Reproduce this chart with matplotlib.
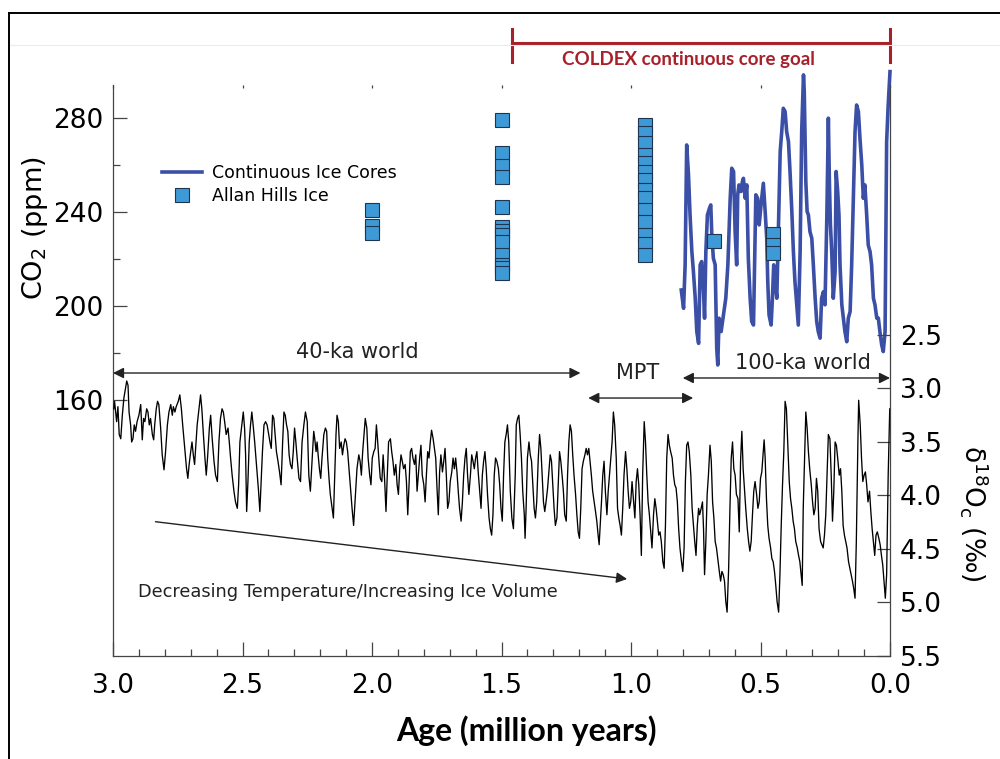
import numpy as np
import matplotlib.pyplot as plt
from matplotlib.lines import Line2D
from matplotlib.ticker import MultipleLocator, FixedLocator

plt.rcParams['font.family'] = ['DejaVu Sans']
plt.rcParams['mathtext.default'] = 'regular'

# benthic d18O stack (age in Ma, d18O permil)
d18o_old = [
    (2.997, 3.19), (2.994, 3.12), (2.986, 3.31), (2.981, 3.17), (2.976, 3.43), (2.970, 3.47), (2.964, 3.25),
    (2.958, 3.09), (2.952, 3.00), (2.947, 2.93), (2.942, 2.97), (2.938, 3.22), (2.932, 3.34), (2.928, 3.50),
    (2.923, 3.47), (2.918, 3.34), (2.913, 3.40), (2.907, 3.31), (2.900, 3.25), (2.893, 3.15), (2.887, 3.48),
    (2.882, 3.28), (2.877, 3.31), (2.870, 3.19), (2.865, 3.22), (2.860, 3.34), (2.855, 3.28), (2.848, 3.43),
    (2.843, 3.48), (2.839, 3.34), (2.833, 3.19), (2.828, 3.12), (2.823, 3.15), (2.816, 3.37), (2.810, 3.62),
    (2.803, 3.76), (2.797, 3.59), (2.790, 3.34), (2.784, 3.22), (2.777, 3.15), (2.771, 3.25), (2.767, 3.17),
    (2.761, 3.22), (2.756, 3.17), (2.748, 3.12), (2.742, 3.06), (2.736, 3.19), (2.731, 3.34), (2.724, 3.53),
    (2.716, 3.75), (2.711, 3.84), (2.706, 3.71), (2.700, 3.59), (2.695, 3.50), (2.690, 3.62), (2.685, 3.71),
    (2.680, 3.53), (2.675, 3.34), (2.668, 3.19), (2.662, 3.06), (2.657, 3.19), (2.651, 3.43), (2.645, 3.65),
    (2.640, 3.81), (2.635, 3.65), (2.628, 3.37), (2.623, 3.25), (2.617, 3.47), (2.610, 3.68), (2.604, 3.81),
    (2.597, 3.87), (2.591, 3.50), (2.585, 3.28), (2.579, 3.19), (2.574, 3.22), (2.569, 3.31), (2.563, 3.43),
    (2.556, 3.37), (2.551, 3.50), (2.546, 3.65), (2.540, 3.81), (2.533, 3.96), (2.527, 4.06), (2.520, 4.12),
    (2.515, 3.90), (2.510, 3.50), (2.504, 3.37), (2.497, 3.22), (2.492, 3.37), (2.488, 3.62), (2.484, 4.15),
    (2.479, 3.87), (2.474, 3.50), (2.469, 3.34), (2.464, 3.22), (2.459, 3.34), (2.453, 3.50), (2.448, 3.65),
    (2.443, 3.81), (2.438, 3.96), (2.433, 4.15), (2.428, 3.87), (2.423, 3.59), (2.417, 3.34), (2.411, 3.31),
    (2.405, 3.34), (2.399, 3.43), (2.394, 3.50), (2.389, 3.56), (2.384, 3.25), (2.379, 3.28), (2.374, 3.43),
    (2.369, 3.59), (2.363, 3.68), (2.357, 3.78), (2.351, 3.90), (2.345, 3.50), (2.340, 3.22), (2.335, 3.25),
    (2.330, 3.34), (2.325, 3.40), (2.320, 3.62), (2.315, 3.71), (2.309, 3.75), (2.304, 3.59), (2.299, 3.37),
    (2.294, 3.50), (2.289, 3.65), (2.282, 3.84), (2.276, 3.87), (2.270, 3.50), (2.263, 3.34), (2.257, 3.22),
    (2.250, 3.31), (2.244, 3.81),
]
d18o_mid = [
    (2.238, 3.96), (2.231, 3.65), (2.225, 3.40), (2.221, 3.47), (2.216, 3.59), (2.212, 3.50), (2.208, 3.62),
    (2.203, 3.75), (2.198, 3.84), (2.193, 3.65), (2.186, 3.43), (2.180, 3.37), (2.175, 3.40), (2.171, 3.65),
    (2.166, 3.84), (2.161, 3.99), (2.154, 4.12), (2.149, 4.21), (2.144, 3.81), (2.139, 3.43), (2.135, 3.25),
    (2.130, 3.31), (2.125, 3.56), (2.119, 3.50), (2.114, 3.62), (2.109, 3.53), (2.104, 3.47), (2.099, 3.50),
    (2.094, 3.59), (2.089, 3.75), (2.083, 3.93), (2.077, 4.12), (2.071, 4.28), (2.064, 3.99), (2.058, 3.75),
    (2.051, 3.62), (2.046, 3.68), (2.041, 3.81), (2.036, 3.59), (2.031, 3.43), (2.026, 3.28), (2.020, 3.37),
    (2.015, 3.65), (2.009, 3.81), (2.004, 3.90), (1.999, 3.65), (1.993, 3.59), (1.988, 3.56), (1.983, 3.34),
    (1.978, 3.50), (1.973, 3.68), (1.968, 3.84), (1.962, 3.87), (1.957, 3.62), (1.951, 3.87), (1.946, 4.15),
    (1.941, 3.81), (1.936, 3.50), (1.929, 3.47), (1.924, 3.59), (1.919, 3.68), (1.914, 3.81), (1.908, 3.71),
    (1.903, 3.90), (1.898, 3.99), (1.893, 3.75), (1.888, 3.62), (1.883, 3.68), (1.878, 3.75), (1.872, 3.71),
    (1.867, 3.87), (1.862, 4.18), (1.857, 3.90), (1.852, 3.59), (1.847, 3.56), (1.842, 3.65), (1.836, 3.71),
    (1.831, 3.62), (1.826, 3.96), (1.821, 3.81), (1.816, 3.65), (1.811, 3.53), (1.806, 3.81), (1.800, 3.90),
    (1.795, 4.06), (1.790, 3.81), (1.785, 3.59), (1.780, 3.65), (1.775, 3.50), (1.770, 3.39), (1.764, 3.47),
    (1.759, 3.56), (1.754, 3.65), (1.749, 3.93), (1.744, 4.18), (1.739, 3.78), (1.734, 3.62), (1.728, 3.78),
    (1.723, 3.68), (1.718, 3.56), (1.713, 3.81), (1.708, 4.12), (1.703, 4.06), (1.698, 3.87), (1.692, 3.78),
    (1.687, 3.65), (1.682, 3.75), (1.677, 3.65), (1.672, 3.78), (1.667, 3.96), (1.662, 4.12), (1.656, 4.24),
    (1.651, 4.06), (1.646, 3.81), (1.641, 3.65), (1.636, 3.56), (1.631, 3.81), (1.626, 3.99), (1.620, 3.81),
    (1.615, 3.62), (1.610, 3.68), (1.605, 3.75), (1.600, 3.65), (1.595, 3.59), (1.590, 3.78), (1.584, 3.96),
    (1.579, 4.12), (1.574, 3.81), (1.569, 3.68), (1.564, 3.59), (1.559, 3.75), (1.554, 3.99), (1.548, 4.21),
    (1.543, 4.31), (1.538, 4.37), (1.533, 4.18), (1.528, 3.81), (1.523, 3.65), (1.518, 3.68), (1.512, 3.75),
    (1.507, 3.90), (1.502, 4.12), (1.497, 4.24), (1.492, 3.81), (1.487, 3.50),
]
d18o_mpt = [
    (1.482, 3.43), (1.477, 3.34), (1.472, 3.50), (1.466, 3.96), (1.460, 4.21), (1.454, 4.31), (1.447, 3.81),
    (1.443, 3.34), (1.438, 3.28), (1.433, 3.25), (1.428, 3.43), (1.423, 3.65), (1.418, 3.96), (1.412, 4.18),
    (1.409, 4.40), (1.405, 4.12), (1.400, 3.65), (1.394, 3.50), (1.389, 3.62), (1.384, 3.68), (1.379, 3.90),
    (1.374, 4.12), (1.369, 4.21), (1.364, 4.06), (1.358, 3.65), (1.353, 3.43), (1.348, 3.56), (1.343, 3.81),
    (1.338, 4.06), (1.333, 4.15), (1.328, 4.06), (1.322, 3.93), (1.317, 3.78), (1.312, 3.62), (1.307, 3.68),
    (1.302, 3.90), (1.297, 4.12), (1.292, 4.28), (1.286, 4.21), (1.281, 3.90), (1.276, 3.59), (1.271, 3.68),
    (1.266, 3.81), (1.261, 3.96), (1.256, 4.18), (1.250, 4.24), (1.245, 3.81), (1.240, 3.50), (1.235, 3.34),
    (1.230, 3.40), (1.225, 3.62), (1.220, 3.81), (1.214, 3.99), (1.209, 4.18), (1.204, 4.34), (1.199, 4.40),
    (1.194, 4.12), (1.189, 3.75), (1.184, 3.68), (1.178, 3.62), (1.173, 3.56), (1.168, 3.62), (1.163, 3.56),
    (1.158, 3.68), (1.153, 3.81), (1.148, 3.96), (1.142, 4.06), (1.137, 4.15), (1.132, 4.24), (1.127, 4.37),
    (1.123, 4.46), (1.119, 4.28), (1.114, 4.06), (1.109, 3.81), (1.104, 3.68), (1.099, 3.96), (1.093, 4.18),
    (1.088, 3.96), (1.083, 3.81), (1.078, 3.65), (1.073, 3.50), (1.068, 3.22), (1.063, 3.34), (1.057, 3.65),
    (1.052, 4.12), (1.047, 4.21), (1.042, 4.28), (1.037, 4.37), (1.032, 4.12), (1.027, 3.81), (1.021, 3.59),
    (1.016, 3.75), (1.011, 3.96), (1.006, 4.12), (1.001, 4.06), (0.996, 3.87), (0.991, 4.03), (0.985, 4.21),
    (0.980, 3.87), (0.975, 3.75), (0.970, 3.90), (0.965, 4.18), (0.960, 4.56), (0.955, 3.81), (0.949, 3.31),
    (0.944, 3.50), (0.939, 3.81), (0.934, 4.06), (0.929, 4.18), (0.924, 4.34), (0.919, 4.49), (0.913, 4.18),
    (0.908, 4.03), (0.903, 4.12), (0.898, 4.24), (0.893, 4.37), (0.888, 4.34), (0.883, 4.43), (0.877, 4.62),
    (0.872, 4.68), (0.867, 4.28), (0.862, 3.65), (0.857, 3.43), (0.852, 3.53), (0.847, 3.59), (0.841, 3.65),
    (0.836, 3.81), (0.831, 3.90), (0.826, 3.93), (0.821, 4.06), (0.816, 4.31), (0.811, 4.49), (0.805, 4.62),
    (0.800, 4.71), (0.795, 4.49), (0.790, 3.87), (0.785, 3.53), (0.780, 3.50), (0.775, 3.59), (0.769, 3.81),
    (0.764, 4.12), (0.759, 4.28), (0.754, 4.43), (0.749, 4.56), (0.744, 4.28), (0.739, 4.12), (0.735, 4.18),
]
d18o_young = [
    (0.729, 4.12), (0.724, 4.06), (0.720, 4.31), (0.716, 4.74), (0.711, 4.43), (0.706, 3.99), (0.701, 3.81),
    (0.695, 3.53), (0.690, 3.68), (0.685, 4.06), (0.680, 4.21), (0.675, 4.43), (0.670, 4.49), (0.665, 4.59),
    (0.659, 4.71), (0.654, 4.80), (0.649, 4.71), (0.644, 4.74), (0.639, 4.80), (0.634, 4.99), (0.629, 5.09),
    (0.623, 4.68), (0.618, 4.12), (0.613, 3.65), (0.608, 3.50), (0.603, 3.75), (0.598, 3.81), (0.593, 3.99),
    (0.587, 4.03), (0.582, 4.34), (0.577, 3.68), (0.572, 3.40), (0.567, 3.75), (0.562, 3.93), (0.557, 4.12),
    (0.551, 4.31), (0.546, 4.43), (0.541, 4.52), (0.536, 4.43), (0.531, 4.18), (0.526, 3.96), (0.521, 3.87),
    (0.515, 3.99), (0.510, 4.12), (0.505, 4.06), (0.500, 3.84), (0.495, 3.78), (0.490, 3.62), (0.486, 3.48),
    (0.482, 3.65), (0.477, 4.03), (0.472, 4.28), (0.467, 4.40), (0.461, 4.49), (0.456, 4.59), (0.451, 4.62),
    (0.446, 4.71), (0.441, 4.84), (0.436, 4.99), (0.430, 5.09), (0.425, 4.74), (0.420, 4.28), (0.415, 3.90),
    (0.410, 3.59), (0.405, 3.12), (0.400, 3.19), (0.394, 3.56), (0.389, 3.87), (0.384, 4.03), (0.379, 4.12),
    (0.374, 4.24), (0.369, 4.31), (0.364, 4.43), (0.358, 4.49), (0.353, 4.56), (0.348, 4.62), (0.343, 4.74),
    (0.339, 4.84), (0.335, 4.12), (0.330, 3.65), (0.325, 3.22), (0.320, 3.37), (0.315, 3.59), (0.310, 3.75),
    (0.304, 3.90), (0.299, 4.06), (0.294, 4.18), (0.289, 4.12), (0.284, 3.84), (0.279, 3.96), (0.274, 4.31),
    (0.268, 4.43), (0.263, 4.46), (0.258, 4.49), (0.253, 4.37), (0.248, 4.18), (0.243, 3.81), (0.238, 3.43),
    (0.232, 3.47), (0.227, 3.81), (0.222, 4.24), (0.217, 3.96), (0.212, 3.50), (0.207, 3.53), (0.202, 3.65),
    (0.196, 3.81), (0.191, 3.75), (0.186, 3.96), (0.181, 4.28), (0.176, 4.37), (0.171, 4.43), (0.166, 4.49),
    (0.160, 4.62), (0.155, 4.68), (0.150, 4.74), (0.145, 4.80), (0.140, 4.87), (0.135, 4.96), (0.130, 4.43),
    (0.124, 3.50), (0.121, 3.11), (0.115, 3.34), (0.110, 3.65), (0.105, 3.87), (0.100, 3.81), (0.095, 3.78),
    (0.090, 3.90), (0.085, 4.06), (0.079, 3.96), (0.074, 4.15), (0.069, 4.31), (0.064, 4.43), (0.059, 4.56),
    (0.054, 4.37), (0.049, 4.34), (0.043, 4.40), (0.038, 4.46), (0.033, 4.56), (0.028, 4.65), (0.023, 4.80),
    (0.018, 4.96), (0.013, 4.74), (0.007, 3.81), (0.001, 3.19),
]

# continuous ice-core CO2 (age in Ma, ppm)
co2_cores = [
    (0.806, 206.8), (0.797, 199.0), (0.791, 217.5), (0.785, 268.5), (0.778, 255.8), (0.772, 238.7),
    (0.765, 223.1), (0.759, 214.6), (0.752, 203.3), (0.746, 189.1), (0.739, 184.1), (0.733, 217.5),
    (0.727, 218.9), (0.720, 206.1), (0.716, 194.8), (0.711, 223.1), (0.705, 238.7), (0.697, 241.6),
    (0.692, 243.0), (0.688, 230.2), (0.682, 220.3), (0.675, 217.5), (0.669, 182.0), (0.665, 174.9),
    (0.660, 194.8), (0.652, 189.1), (0.643, 196.2), (0.634, 203.3), (0.626, 217.5), (0.617, 245.8),
    (0.611, 258.6), (0.604, 257.2), (0.598, 231.6), (0.592, 217.5), (0.588, 247.3), (0.583, 251.5),
    (0.575, 248.7), (0.570, 252.9), (0.566, 254.3), (0.559, 245.8), (0.553, 251.5), (0.547, 220.3),
    (0.540, 203.3), (0.534, 193.4), (0.527, 191.9), (0.523, 217.5), (0.518, 247.3), (0.511, 245.8),
    (0.505, 234.5), (0.498, 243.0), (0.489, 252.2), (0.482, 240.2), (0.476, 228.8), (0.472, 210.4),
    (0.467, 196.2), (0.459, 191.9), (0.454, 203.3), (0.449, 217.5), (0.444, 210.4), (0.437, 203.3),
    (0.431, 231.6), (0.424, 265.7), (0.418, 274.2), (0.412, 284.1), (0.405, 282.7), (0.399, 274.2),
    (0.392, 269.9), (0.386, 257.2), (0.379, 240.2), (0.373, 223.1), (0.367, 210.4), (0.360, 200.5),
    (0.354, 191.9), (0.347, 223.1), (0.341, 274.2), (0.334, 298.3), (0.331, 291.2), (0.325, 252.9),
    (0.320, 240.2), (0.315, 238.7), (0.309, 231.6), (0.302, 228.8), (0.296, 217.5), (0.289, 203.3),
    (0.283, 193.4), (0.277, 189.1), (0.270, 186.3), (0.264, 203.3), (0.257, 206.1), (0.251, 200.5),
    (0.244, 237.3), (0.238, 279.9), (0.234, 252.9), (0.230, 234.5), (0.225, 223.1), (0.219, 203.3),
    (0.212, 214.6), (0.208, 257.2), (0.202, 248.7), (0.197, 238.7), (0.193, 217.5), (0.186, 200.5),
    (0.180, 194.8), (0.174, 189.1), (0.167, 184.8), (0.161, 194.8), (0.154, 197.6), (0.148, 217.5),
    (0.141, 248.7), (0.135, 274.2), (0.129, 285.5), (0.122, 282.7), (0.116, 271.4), (0.109, 260.0),
    (0.103, 245.8), (0.097, 251.5), (0.090, 238.7), (0.084, 225.9), (0.077, 223.1), (0.071, 217.5),
    (0.064, 203.3), (0.058, 200.5), (0.051, 194.8), (0.045, 194.8), (0.039, 189.1), (0.032, 183.4),
    (0.026, 180.6), (0.019, 189.1), (0.013, 269.9), (0.007, 285.5), (0.000, 299.7),
]

# Allan Hills blue ice CO2 samples
allan_age = [2.0, 2.0, 2.0,
             1.5, 1.5, 1.5, 1.5, 1.5, 1.5, 1.5, 1.5, 1.5, 1.5, 1.5, 1.5, 1.5,
             0.945, 0.945, 0.945, 0.945, 0.945, 0.945, 0.945, 0.945, 0.945, 0.945, 0.945, 0.945, 0.945, 0.945,
             0.68, 0.45, 0.45, 0.45]
allan_co2 = [241, 234, 231,
             279, 265, 259.5, 255, 242, 233.7, 232, 230, 227.3, 221.7, 217.4, 216.2, 214,
             277, 273.5, 269.2, 264.3, 260.7, 257.1, 253.6, 249.4, 245.8, 240.9, 235.9, 230.2, 226.4, 221.7,
             227.5, 230.5, 226, 222.4]

# climate regimes shown by double arrows: label, start, end (Ma), label centre (Ma)
regimes = [('40-ka world', 3.0, 1.195, 2.056), ('MPT', 1.165, 0.76, 0.976),
           ('100-ka world', 0.80, 0.0, 0.336)]
coldex_goal = (1.46, 0.0)

d18o = np.array(d18o_old + d18o_mid + d18o_mpt + d18o_young)
co2 = np.array(co2_cores)

BLUE_LINE = '#3b4fa6'
BLUE_SQ = '#3d9ad6'
RED = '#a8202a'
AX_COL = '#444444'

fig = plt.figure(figsize=(10, 7.59), dpi=100)
ax = fig.add_axes([0.113, 0.1357, 0.777, 0.7523])
ax2 = ax.twinx()

ax.plot(co2[:, 0], co2[:, 1], color=BLUE_LINE, lw=2.6, solid_joinstyle='round',
        label='Continuous Ice Cores', zorder=3, clip_on=False)
ax.plot(allan_age, allan_co2, ls='none', marker='s', ms=9.5, mfc=BLUE_SQ,
        mec='#1d3550', mew=0.8, label='Allan Hills Ice', zorder=4)
ax2.plot(d18o[:, 0], d18o[:, 1], color='black', lw=0.95)

ax.set_xlim(3.0, 0.0)
ax.set_ylim(51.1, 294.0)
ax2.set_ylim(5.5, 0.164)

for a in (ax, ax2):
    a.spines['top'].set_visible(False)
    for s in a.spines.values():
        s.set_color(AX_COL)
        s.set_linewidth(0.9)
ax.spines['right'].set_visible(False)
ax2.spines['left'].set_visible(False)
ax2.spines['bottom'].set_visible(False)

ax.xaxis.set_major_locator(MultipleLocator(0.5))
ax.xaxis.set_minor_locator(MultipleLocator(0.1))
ax.xaxis.set_major_formatter(plt.FuncFormatter(lambda v, p: f'{v:.1f}'))
ax.yaxis.set_major_locator(FixedLocator([160, 200, 240, 280]))
ax.yaxis.set_minor_locator(FixedLocator([180, 220, 260]))
ax2.yaxis.set_major_locator(FixedLocator([2.5, 3.0, 3.5, 4.0, 4.5, 5.0, 5.5]))
ax2.yaxis.set_major_formatter(plt.FuncFormatter(lambda v, p: f'{v:.1f}'))

ax.tick_params(axis='both', which='major', direction='in', length=10, width=0.9,
               color=AX_COL, labelsize=19, pad=7)
ax.tick_params(axis='x', which='major', pad=12)
ax.tick_params(axis='both', which='minor', direction='in', length=5, width=0.9, color=AX_COL)
# faint leftover ticks along the top edge
ax.tick_params(axis='x', which='major', top=True, labeltop=False)
for t in ax.xaxis.get_major_ticks():
    t.tick2line.set_markersize(2)
    t.tick2line.set_color('#d0d0d0')
ax2.tick_params(axis='y', which='major', direction='in', length=9.5, width=0.9,
                color=AX_COL, labelsize=19, pad=7)

ax.set_ylabel('CO$_2$ (ppm)', fontsize=19.5)
ax.yaxis.set_label_coords(-0.081, 0.75)
ax2.set_ylabel('δ$^{18}$O$_c$ (‰)', fontsize=19, rotation=270, labelpad=24)
ax2.yaxis.set_label_coords(1.13, 0.25)
fig.text(0.526, 0.038, 'Age (million years)', fontsize=23, fontweight='bold',
         family='Lato', ha='center', va='center')

# regime arrows
xt = ax.get_xaxis_transform()
arrow_y = [0.4956, 0.4518, 0.4869]
label_y = [0.532, 0.4956, 0.513]
for (name, a0, a1, ac), yy, ty in zip(regimes, arrow_y, label_y):
    ax.annotate('', xy=(a1, yy), xytext=(a0, yy), xycoords=xt, textcoords=xt,
                arrowprops=dict(arrowstyle='<|-|>', color='#222222', lw=1.0,
                                mutation_scale=16, shrinkA=0, shrinkB=0))
    ax.text(ac, ty, name, transform=xt, ha='center', va='center', fontsize=15,
            color='#222222')

# trend arrow
ax.annotate('', xy=(1.015, 0.1349), xytext=(2.836, 0.2352), xycoords=xt, textcoords=xt,
            arrowprops=dict(arrowstyle='-|>', color='#222222', lw=1.0,
                            mutation_scale=16, shrinkA=0, shrinkB=0))
ax.text(2.095, 0.112, 'Decreasing Temperature/Increasing Ice Volume', transform=xt,
        ha='center', va='center', fontsize=12.8, color='#222222')

# COLDEX bracket above the axes
g0, g1 = coldex_goal
ax.plot([g0, g1], [1.0727, 1.0727], transform=xt, color=RED, lw=2.2, clip_on=False)
for g in coldex_goal:
    ax.plot([g, g], [1.040, 1.098], transform=xt, color=RED, lw=2.2, clip_on=False)
ax.text(0.78, 1.045, 'COLDEX continuous core goal', transform=xt, ha='center', va='center',
        fontsize=13.5, fontweight='bold', family='Lato', color=RED)

leg = ax.legend(loc='upper left', bbox_to_anchor=(0.162, 0.784), bbox_transform=fig.transFigure,
                frameon=False, fontsize=12.5, borderpad=0, borderaxespad=0,
                handlelength=2.3, handletextpad=0.6, labelspacing=0.32)

# frame lines of the slide
fig.add_artist(Line2D([0.0085, 1.0], [0.983, 0.983], color='black', lw=1.4))
fig.add_artist(Line2D([0.0085, 0.0085], [0.0, 0.983], color='black', lw=1.4))
fig.add_artist(Line2D([0.01, 1.0], [0.9407, 0.9407], color='#ececec', lw=0.8))

fig.savefig('out.png', dpi=100)
